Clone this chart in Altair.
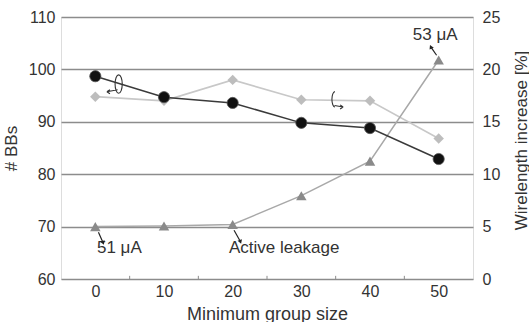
import altair as alt
import pandas as pd

group_size = [0, 10, 20, 30, 40, 50]
num_bbs = [98.7, 94.7, 93.6, 89.8, 88.8, 82.9]          # left axis
wirelength = [17.4, 17.0, 19.0, 17.1, 17.0, 13.4]      # right axis [%]
leakage_pos = [70.0, 70.1, 70.4, 75.9, 82.5, 101.8]    # drawn on left scale

left_ticks = [60, 70, 80, 90, 100, 110]
right_ticks = [0, 5, 10, 15, 20, 25]
x_ticks = [0, 10, 20, 30, 40, 50]
minor_ticks = [5, 15, 25, 35, 45]

ann_text = ["51 μA", "Active leakage", "53 μA"]
ann_x = [3.5, 27.5, 49.5]
ann_y = [66.0, 66.0, 106.6]

arrow_x = [0.45, 20.2, 49.7]
arrow_y = [68.9, 69.3, 102.7]
arrow_x2 = [1.1, 21.1, 48.9]
arrow_y2 = [67.0, 67.2, 104.2]
arrow_angle = [160, 160, 335]

loop_x = [2.8, 34.9]
loop_y = [97.2, 94.2]
loop_shape = [
    "M0.4,-0.9 A0.35,0.9 0 1,1 0.4,0.9 A0.35,0.9 0 1,1 0.4,-0.9 M0.3,0.55 L-0.75,0.75 M-0.75,0.75 L-0.45,0.55 M-0.75,0.75 L-0.45,0.95",
    "M0.0,-0.8 A0.3,0.75 0 1,0 0.0,0.7 M-0.05,0.55 L0.8,0.7 M0.8,0.7 L0.5,0.5 M0.8,0.7 L0.5,0.9",
]

df = pd.DataFrame({"x": group_size, "bbs": num_bbs, "wl": wirelength, "leak": leakage_pos})
ann = pd.DataFrame({"x": ann_x, "y": ann_y, "t": ann_text})
arr = pd.DataFrame({"x": arrow_x, "y": arrow_y, "x2": arrow_x2, "y2": arrow_y2, "a": arrow_angle})
minor = pd.DataFrame({"x": minor_ticks})

FONT = "Liberation Sans"
TXT = "#333333"

xs = alt.Scale(domain=[-5, 55], nice=False, zero=False)
xaxis = alt.Axis(values=x_ticks, title="Minimum group size", grid=False, domain=False, ticks=False,
                 labelFontSize=16, titleFontSize=18, labelPadding=4, titleY=40,
                 titleBaseline="alphabetic",
                 labelColor=TXT, titleColor=TXT, labelFont=FONT, titleFont=FONT,
                 titleFontWeight="normal")
X = alt.X("x:Q", scale=xs, axis=xaxis)

ys_l = alt.Scale(domain=[60, 110], nice=False, zero=False)
yaxis_l = alt.Axis(values=left_ticks, title="# BBs", orient="left", grid=True, gridColor="#8c8c8c",
                   gridWidth=1.5, domain=False, ticks=False, labelFontSize=16, titleFontSize=17,
                   labelPadding=6, titlePadding=8, labelColor=TXT, titleColor=TXT,
                   labelFont=FONT, titleFont=FONT, titleFontWeight="normal")
ys_r = alt.Scale(domain=[0, 25], nice=False, zero=True)
yaxis_r = alt.Axis(values=right_ticks, title="Wirelength increase [%]", orient="right", grid=False,
                   domain=False, ticks=False, labelFontSize=16, titleFontSize=17, labelPadding=9,
                   titleAngle=270, titleBaseline="middle", titleAlign="center",
                   titleX=48, titleY=123,
                   labelColor=TXT, titleColor=TXT, labelFont=FONT, titleFont=FONT,
                   titleFontWeight="normal")

base = alt.Chart(df)

right_layer = alt.layer(
    base.mark_line(color="#c8c8c8", strokeWidth=1.6).encode(
        x=X, y=alt.Y("wl:Q", scale=ys_r, axis=yaxis_r)),
    base.mark_point(shape="diamond", filled=True, color="#bdbdbd", size=110, opacity=1).encode(
        x="x:Q", y=alt.Y("wl:Q")),
)

Yl = alt.Y("bbs:Q", scale=ys_l, axis=yaxis_l)
left_layer = alt.layer(
    base.mark_line(color="#a8a8a8", strokeWidth=1.5).encode(x=X, y=alt.Y("leak:Q", scale=ys_l, axis=yaxis_l)),
    base.mark_point(shape="triangle-up", filled=True, color="#8a8a8a", size=110, opacity=1).encode(
        x="x:Q", y="leak:Q"),
    base.mark_line(color="#3a3a3a", strokeWidth=1.5).encode(x="x:Q", y=Yl),
    base.mark_circle(color="#111111", size=125, opacity=1, stroke="#555", strokeWidth=0.8).encode(
        x="x:Q", y="bbs:Q"),
    alt.Chart(minor).mark_rule(color="#8c8c8c", strokeWidth=1).encode(
        x="x:Q", y=alt.datum(60), y2=alt.datum(60.6)),
    alt.Chart(ann).mark_text(fontSize=17, font=FONT, color=TXT, baseline="middle", align="center").encode(
        x="x:Q", y="y:Q", text="t:N"),
    alt.Chart(arr).mark_rule(color="#222", strokeWidth=1.2).encode(
        x="x:Q", y="y:Q", x2="x2:Q", y2="y2:Q"),
    alt.Chart(arr).mark_point(shape="triangle", filled=True, color="#222", size=22, opacity=1).encode(
        x="x2:Q", y="y2:Q", angle=alt.Angle("a:Q", scale=None)),
    alt.Chart(pd.DataFrame({"x": loop_x, "y": loop_y, "s": loop_shape})).mark_point(
        filled=False, color="#333", strokeWidth=1.1, size=420, opacity=1).encode(
        x="x:Q", y="y:Q", shape=alt.Shape("s:N", scale=None)),
)

chart = alt.layer(right_layer, left_layer).resolve_scale(y="independent").properties(
    width=412, height=262,
    autosize=alt.AutoSizeParams(type="none"),
    padding={"left": 61, "top": 17, "right": 56, "bottom": 43},
).configure_view(stroke="#8c8c8c", strokeWidth=1.5).configure(background="white")

chart.save("out.html", embed_options={"renderer": "svg", "actions": False})
